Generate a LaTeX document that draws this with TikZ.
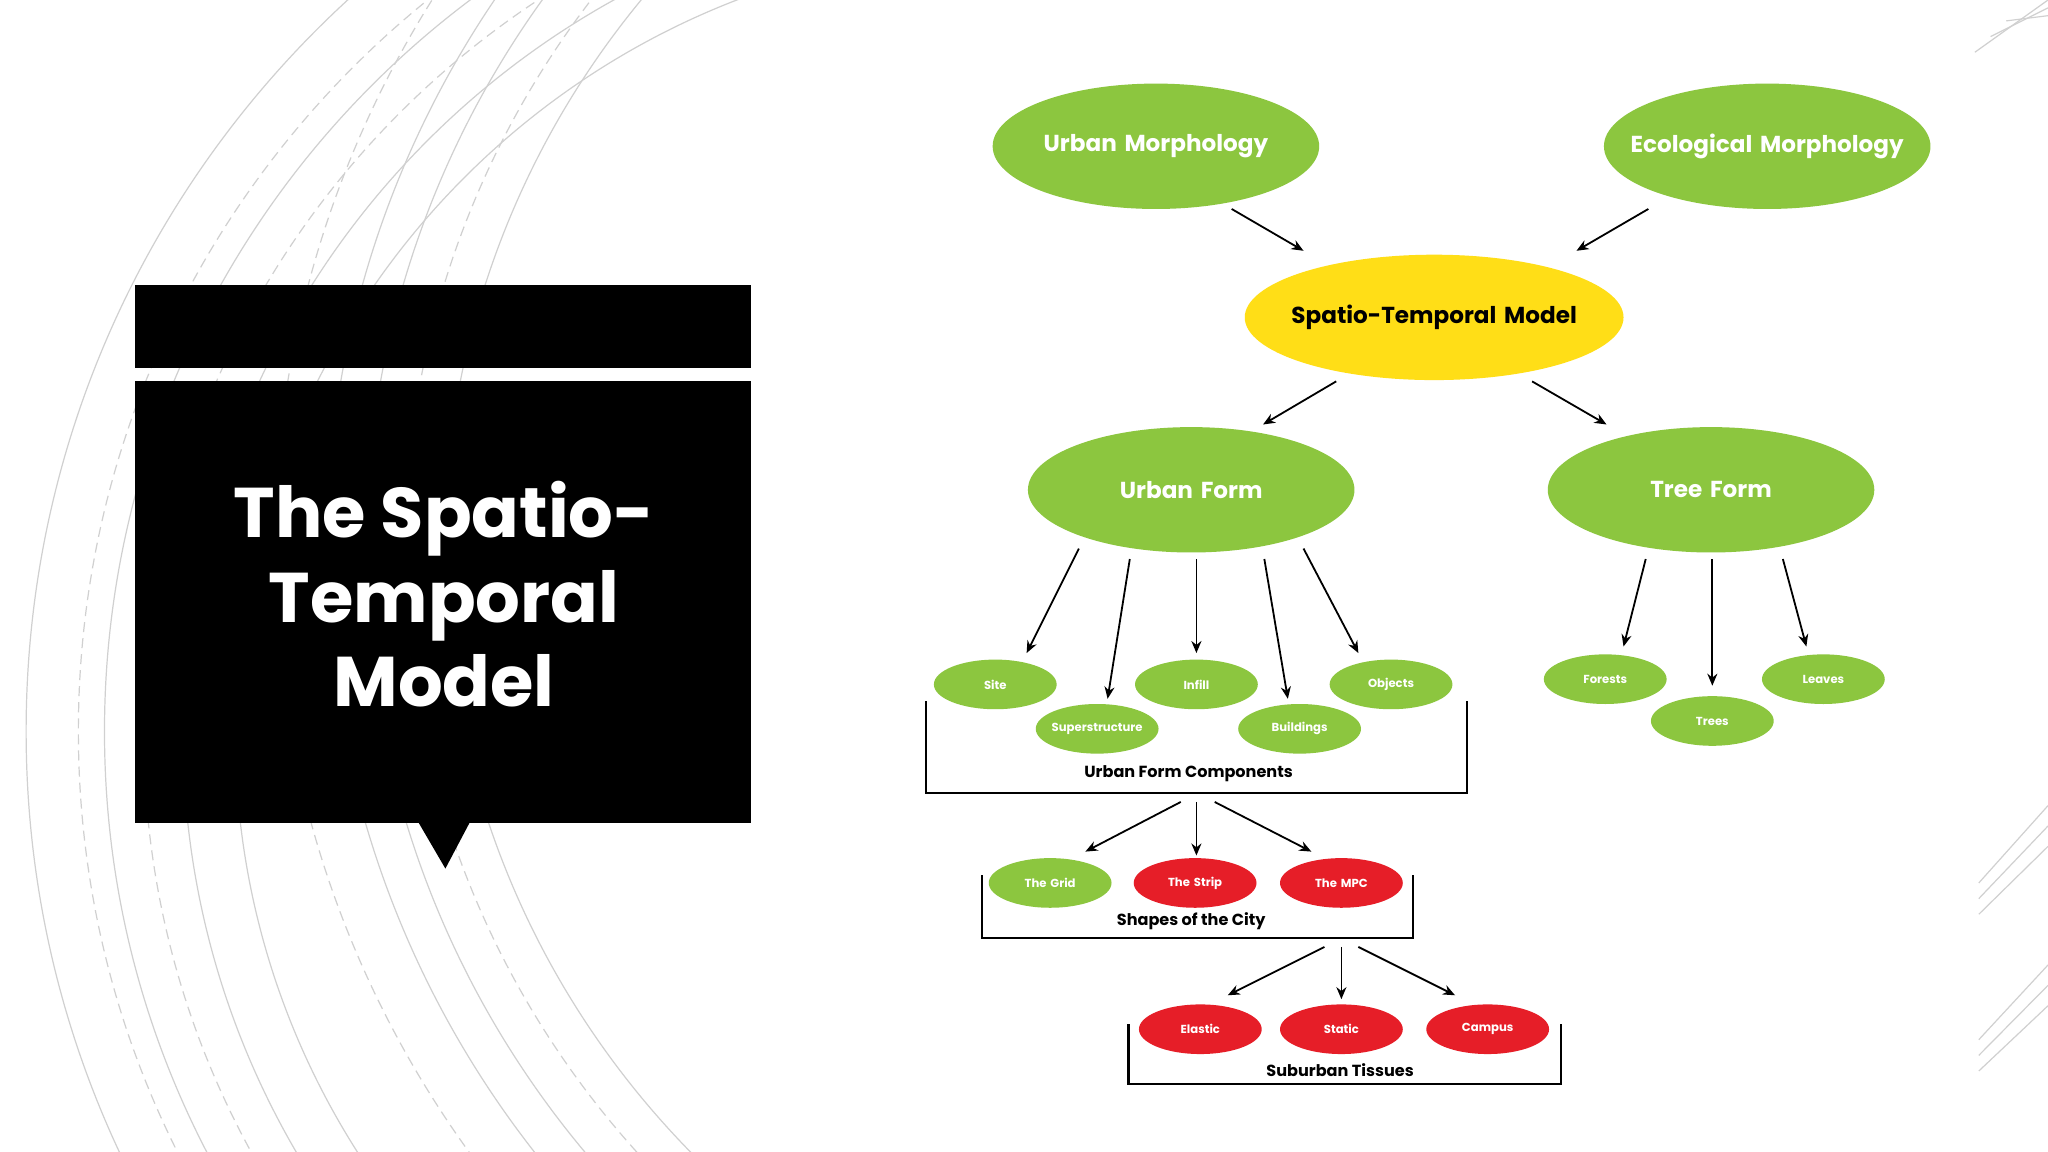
\documentclass[tikz,border=0pt]{standalone}
\usepackage{fontspec}
\setmainfont{Poppins}
\usetikzlibrary{arrows.meta,shapes.geometric}
\definecolor{lg}{HTML}{8CC63F}
\definecolor{yl}{HTML}{FFDE17}
\definecolor{rd}{HTML}{E61E28}
\definecolor{arc}{HTML}{D0D0D0}
\begin{document}
\begin{tikzpicture}[x=0.65pt,y=-0.65pt,
  big/.style={ellipse,fill=lg,minimum width=250*0.65pt,minimum height=96*0.65pt,inner sep=0,text=white,font=\bfseries\fontsize{11.5}{13}\selectfont,text width=0pt,align=center},
  sm/.style={ellipse,fill=lg,minimum width=94*0.65pt,minimum height=38*0.65pt,inner sep=0,text=white,font=\bfseries\fontsize{5.8}{6.5}\selectfont,text width=0pt,align=center},
  rsm/.style={sm,fill=rd},
  lab/.style={font=\bfseries\fontsize{8}{10}\selectfont,text=black},
  ar/.style={-{Stealth[length=6pt,width=5pt]},line width=0.9pt},
  br/.style={line width=1.2pt},
  bg/.style={draw=arc,line width=0.6pt},
  bgd/.style={bg,dash pattern=on 5pt off 3pt}]
\useasboundingbox (0,0) rectangle (1568,882);
\fill[white] (0,0) rectangle (1568,882);
% background arcs
\begin{scope}
\clip (0,0) rectangle (700,882);
\foreach \r/\s in {600/bg,640/bg,670/bgd,700/bg,720/bgd,760/bg}{
  \draw[\s] (780,560) circle[radius=\r];}
\foreach \r/\s in {660/bg,690/bgd,720/bg,750/bg,790/bgd}{
  \draw[\s] (1000,420) circle[radius=\r];}
\end{scope}
\foreach \d in {0,12,24}{
  \draw[bg] (1512+\d,40-\d) -- (1568,0+ \d*0.5);
  \draw[bg] (1515,700-\d) -- (1568,648-\d*1.3);
  \draw[bg] (1515,820-\d) -- (1568,770-\d*1.3);}
% title block
\fill[black] (103,218) rectangle (575,282);
\fill[black] (103,292) rectangle (575,630);
\fill[black] (320,629) -- (360,629) -- (341,665) -- cycle;
\node[text=white,font=\bfseries\fontsize{35}{42}\selectfont,align=center] (title) at (340,455) {The Spatio-\\Temporal\\Model};
% nodes
\node[big] (um) at (885,112) {\makebox[0pt]{Urban Morphology}};
\node[big] (em) at (1353,112) {\makebox[0pt]{Ecological Morphology}};
\node[big,fill=yl,text=black,minimum width=290*0.65pt] (st) at (1098,243) {\makebox[0pt]{Spatio-Temporal Model}};
\node[big] (uf) at (912,375) {\makebox[0pt]{Urban Form}};
\node[big] (tf) at (1310,375) {\makebox[0pt]{Tree Form}};
\node[sm] (site) at (762,524) {\makebox[0pt]{Site}};
\node[sm] (sup) at (840,558) {\makebox[0pt]{Superstructure}};
\node[sm] (inf) at (916,524) {\makebox[0pt]{Infill}};
\node[sm] (bld) at (995,558) {\makebox[0pt]{Buildings}};
\node[sm] (obj) at (1065,524) {\makebox[0pt]{Objects}};
\node[sm] (for) at (1229,520) {\makebox[0pt]{Forests}};
\node[sm] (tre) at (1311,552) {\makebox[0pt]{Trees}};
\node[sm] (lea) at (1396,520) {\makebox[0pt]{Leaves}};
\node[sm] (grid) at (804,676) {\makebox[0pt]{The Grid}};
\node[rsm] (strip) at (915,676) {\makebox[0pt]{The Strip}};
\node[rsm] (mpc) at (1027,676) {\makebox[0pt]{The MPC}};
\node[rsm] (ela) at (919,788) {\makebox[0pt]{Elastic}};
\node[rsm] (sta) at (1027,788) {\makebox[0pt]{Static}};
\node[rsm] (cam) at (1139,788) {\makebox[0pt]{Campus}};
% brackets
\draw[br] (709,537) -- (709,607) -- (1123,607) -- (1123,537);
\node[lab] (ufc) at (910,592) {Urban Form Components};
\draw[br] (752,670) -- (752,718) -- (1082,718) -- (1082,670);
\node[lab] (soc) at (912,705) {Shapes of the City};
\draw[br] (864,784) -- (864,830) -- (1195,830) -- (1195,784);
\node[lab] (sub) at (1026,819) {Suburban Tissues};
% arrow ends
\foreach \n/\x/\y in {a1/943/160,a2/998/192,b1/1262/160,b2/1207/192,c1/1023/292,c2/967/325,d1/1173/292,d2/1230/325,
 e1/826/420,e2/786/500,f1/865/428,f2/848/535,g1/916/428,g2/916/500,h1/968/428,h2/986/535,i1/998/420,i2/1040/500,
 j1/1260/428,j2/1243/495,k1/1311/428,k2/1311/525,l1/1365/428,l2/1383/495,
 m1/904/614,m2/831/652,n1/916/614,n2/916/655,o1/930/614,o2/1004/652,
 p1/1014/725,p2/940/762,q1/1027/725,q2/1027/765,r1/1040/725,r2/1114/762}
 {\coordinate (\n) at (\x,\y);}
\foreach \s in {a,b,c,d,e,f,g,h,i,j,k,l,m,n,o,p,q,r}{\draw[ar] (\s1) -- (\s2);}
\end{tikzpicture}
\end{document}
